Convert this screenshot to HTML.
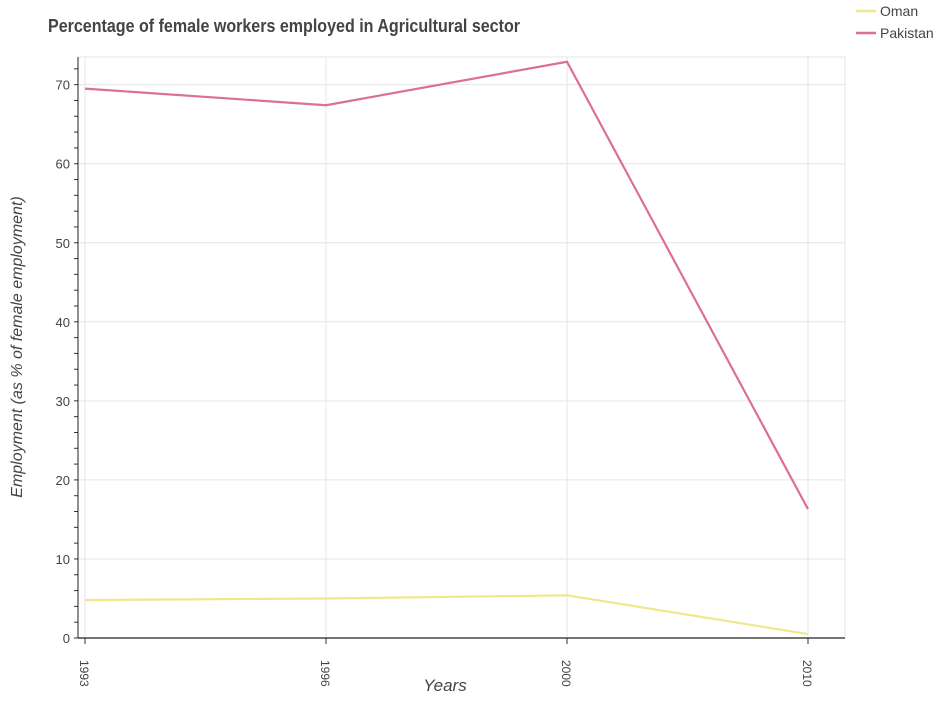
<!DOCTYPE html>
<html><head><meta charset="utf-8"><style>
body{margin:0;background:#fff;font-family:"Liberation Sans",sans-serif}
</style></head><body>
<svg id="c" width="939" height="700" font-family="Liberation Sans, sans-serif"></svg>
<script>
const years=["1993","1996","2000","2010"];
const oman=[4.8,5.0,5.4,0.5];
const pakistan=[69.5,67.4,72.9,16.3];
const yTicks=[0,10,20,30,40,50,60,70];
const svg=document.getElementById('c');
const NS='http://www.w3.org/2000/svg';
const L=78,R=845,T=57,B=638,x0=85,x1=808,yMax=73.5;
const xs=i=>x0+i*(x1-x0)/(years.length-1);
const ys=v=>B-v*(B-T)/yMax;
function add(tag,attrs,txt){const e=document.createElementNS(NS,tag);for(const k in attrs)e.setAttribute(k,attrs[k]);if(txt!==undefined)e.textContent=txt;svg.appendChild(e);return e;}
let e=add('text',{x:48,y:32,'font-size':18,fill:'#444','font-weight':'bold',textLength:472,lengthAdjust:'spacingAndGlyphs'},'Percentage of female workers employed in Agricultural sector');

add('rect',{x:L,y:T,width:R-L,height:B-T,fill:'none',stroke:'#e6e6e6'});
yTicks.forEach(v=>{
 let g=add('line',{x1:L,x2:R,y1:ys(v),y2:ys(v),stroke:'#e6e6e6'});
 
 let t=add('text',{x:L-8,y:ys(v)+5,'text-anchor':'end','font-size':13,fill:'#444'},String(v));
 
});
for(let v=0;v<=yMax;v+=2){add('line',{x1:L-4,x2:L,y1:ys(v),y2:ys(v),stroke:'#333'});}
years.forEach((y,i)=>{
 let g=add('line',{x1:xs(i),x2:xs(i),y1:T,y2:B,stroke:'#e6e6e6'});
 
 add('line',{x1:xs(i),x2:xs(i),y1:B,y2:B+6,stroke:'#333'});
 let t=add('text',{x:xs(i)-5,y:B+22,'font-size':12,fill:'#444',transform:`rotate(90 ${xs(i)-5} ${B+22})`},y);
 
});
add('line',{x1:L,x2:R,y1:B,y2:B,stroke:'#222','stroke-width':1.3});
add('line',{x1:L,x2:L,y1:T,y2:B,stroke:'#222','stroke-width':1});
e=add('text',{x:445,y:691,'text-anchor':'middle','font-size':17,'font-style':'italic',fill:'#444'},'Years');

e=add('text',{x:22,y:347,'text-anchor':'middle','font-size':16,'font-style':'italic',fill:'#444',transform:'rotate(-90 22 347)'},'Employment (as % of female employment)');

function line(d,c,name){let p=add('polyline',{points:d.map((v,i)=>xs(i)+','+ys(v)).join(' '),fill:'none',stroke:c,'stroke-width':2.2});
 }
line(oman,'#f0e68c','oman-line');
line(pakistan,'#db7093','pakistan-line');
[['Oman','#f0e68c',11],['Pakistan','#db7093',33]].forEach(([n,c,y])=>{
 let l=add('line',{x1:856,x2:876,y1:y,y2:y,stroke:c,'stroke-width':2.5});
 
 let t=add('text',{x:880,y:y+5,'font-size':14,fill:'#444'},n);
 
});
</script>
</body></html>
